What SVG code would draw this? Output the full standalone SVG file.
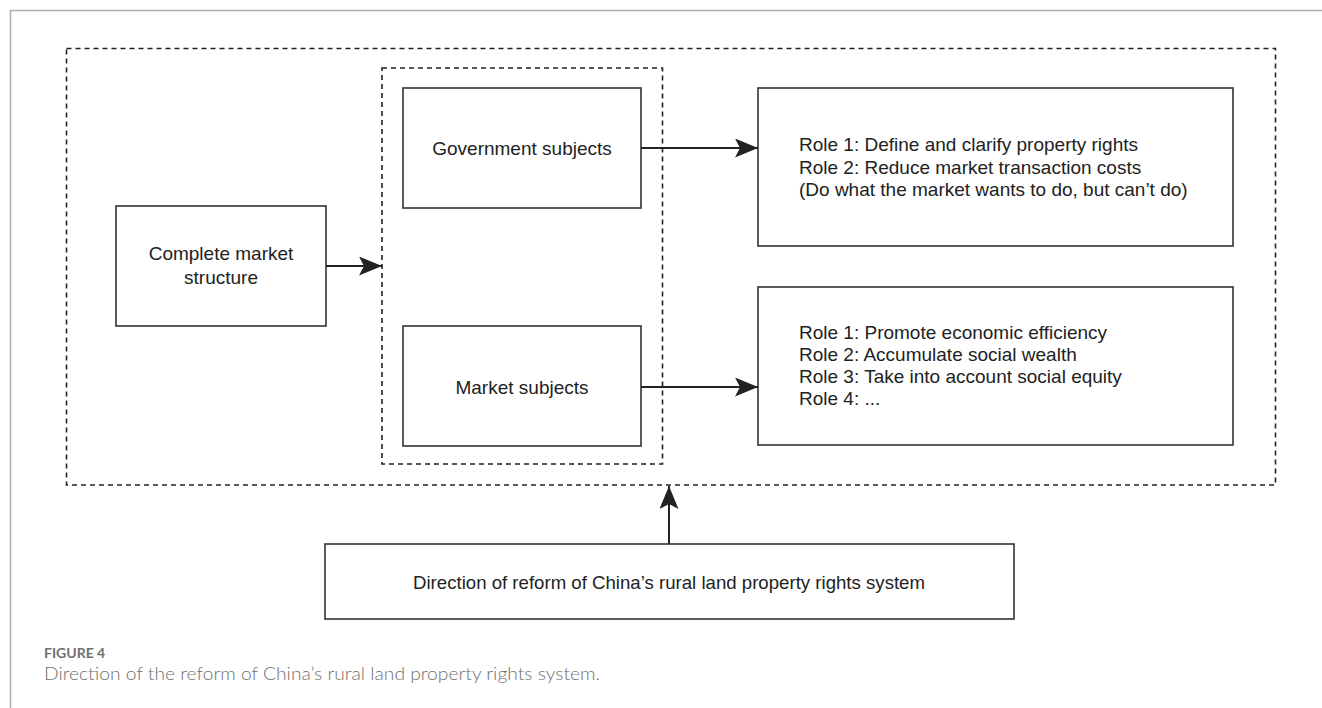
<svg xmlns="http://www.w3.org/2000/svg" width="1322" height="708" viewBox="0 0 1322 708">
<style>
.frame{fill:none;stroke:#b0b0b0;stroke-width:1.5}
.dash{fill:none;stroke:#222;stroke-width:1.6;stroke-dasharray:5 4}
.box{fill:#fff;stroke:#333;stroke-width:1.6}
.t{font-family:"Liberation Sans",Arial,sans-serif;font-size:19px;fill:#222}
.c{text-anchor:middle}
.con{fill:none;stroke:#222;stroke-width:2}
.cap1{font-family:Lato,"Open Sans",sans-serif;font-size:14px;font-weight:bold;fill:#707070}
.cap2{font-family:Lato,"Open Sans",sans-serif;font-size:18px;font-weight:300;fill:#707070}
</style>
<defs>
<marker id="ah" markerUnits="userSpaceOnUse" markerWidth="24" markerHeight="20" refX="23" refY="9.5" orient="auto" viewBox="0 0 24 20">
<path d="M0,0 L23,9.5 L0,19 L5,9.5 z" fill="#222"/>
</marker>
</defs>
<rect width="1322" height="708" fill="#fff"/>
<path class="frame" d="M10.5,708 L10.5,10.5 L1322,10.5"/>
<g id="outer-group"><rect class="dash" x="66.5" y="48.5" width="1209" height="436.5"/></g>
<g id="subjects-group"><rect class="dash" x="382" y="68" width="280.5" height="396"/></g>
<g id="complete-market"><rect class="box" x="116" y="206" width="210" height="120"/>
<text class="t c" x="221" y="260">Complete market</text>
<text class="t c" x="221" y="284">structure</text></g>
<g id="government"><rect class="box" x="403" y="88" width="238" height="120"/>
<text class="t c" x="522" y="155">Government subjects</text></g>
<g id="market"><rect class="box" x="403" y="326" width="238" height="120"/>
<text class="t c" x="522" y="394">Market subjects</text></g>
<g id="gov-roles"><rect class="box" x="758" y="88" width="475" height="158"/>
<text class="t" x="799" y="151">Role 1: Define and clarify property rights</text>
<text class="t" x="799" y="173.5">Role 2: Reduce market transaction costs</text>
<text class="t" x="799" y="196">(Do what the market wants to do, but can’t do)</text></g>
<g id="market-roles"><rect class="box" x="758" y="287" width="475" height="158"/>
<text class="t" x="799" y="338.5">Role 1: Promote economic efficiency</text>
<text class="t" x="799" y="360.5">Role 2: Accumulate social wealth</text>
<text class="t" x="799" y="382.5">Role 3: Take into account social equity</text>
<text class="t" x="799" y="404.5">Role 4: ...</text></g>
<g id="direction"><rect class="box" x="325" y="544" width="689" height="75"/>
<text class="t c" x="669" y="589" textLength="512" lengthAdjust="spacingAndGlyphs">Direction of reform of China’s rural land property rights system</text></g>
<g id="connectors">
<line class="con" x1="326" y1="266" x2="382" y2="266" marker-end="url(#ah)"/>
<line class="con" x1="641" y1="148" x2="758" y2="148" marker-end="url(#ah)"/>
<line class="con" x1="641" y1="387" x2="758" y2="387" marker-end="url(#ah)"/>
<line class="con" x1="669" y1="544" x2="669" y2="486" marker-end="url(#ah)"/>
</g>
<text class="cap1" x="44" y="658">FIGURE 4</text>
<text class="cap2" x="44" y="680" textLength="556" lengthAdjust="spacingAndGlyphs">Direction of the reform of China’s rural land property rights system.</text>
</svg>
